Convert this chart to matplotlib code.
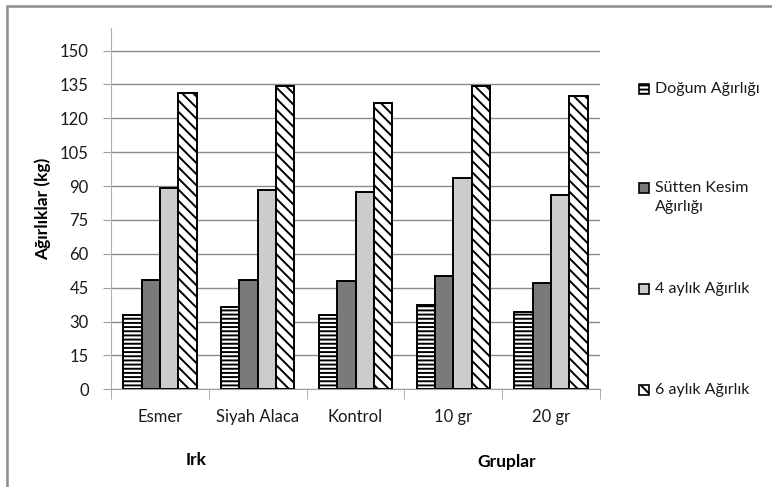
import numpy as np
import matplotlib
matplotlib.use("Agg")
import matplotlib.pyplot as plt
from matplotlib.patches import Rectangle

plt.rcParams['font.family'] = ['Lato', 'DejaVu Sans']
plt.rcParams['hatch.linewidth'] = 1.4

groups = ['Esmer', 'Siyah Alaca', 'Kontrol', '10 gr', '20 gr']
series = ['Doğum Ağırlığı', 'Sütten Kesim\nAğırlığı', '4 aylık Ağırlık', '6 aylık Ağırlık']
dogum = [32.8, 36.5, 32.8, 37.5, 34.1]
sutten = [48.3, 48.3, 48.0, 50.0, 47.1]
ay4 = [89.3, 88.4, 87.2, 93.6, 85.9]
ay6 = [131.0, 134.2, 127.0, 134.2, 129.9]
yticks = np.arange(0, 151, 15)

values = [dogum, sutten, ay4, ay6]
faces = ['white', '#7a7a7a', '#cccccc', 'white']
hatches = ['----', None, None, '\\\\\\']

fig = plt.figure(figsize=(7.72, 4.87), dpi=100)
ax = fig.add_axes([111 / 772, 1 - 389.3 / 487, 489 / 772, 361.3 / 487])

x = np.arange(len(groups))
w = 0.75 / 4
for i, vals in enumerate(values):
    ax.bar(x - 0.375 + w * (i + 0.5), vals, width=w, color=faces[i],
           edgecolor='black', linewidth=1.4, hatch=hatches[i], zorder=3)

ax.set_xlim(-0.5, 4.5)
ax.set_ylim(0, 160)
ax.set_yticks(yticks)
ax.set_yticklabels([str(v) for v in yticks], fontsize=12, color='#1a1a1a')
ax.grid(axis='y', color='#8a8a8a', linewidth=1.0, zorder=0)
ax.tick_params(axis='y', length=6, color='#a0a0a0', pad=10)

ax.set_xticks(x)
ax.set_xticklabels(groups, fontsize=12, color='#1a1a1a')
ax.tick_params(axis='x', length=0, pad=14)
ax.set_xticks(np.arange(-0.5, 5, 1), minor=True)
ax.tick_params(axis='x', which='minor', length=7, color='#a0a0a0', direction='out')

for s in ['top', 'right']:
    ax.spines[s].set_visible(False)
ax.spines['left'].set_color('#b0b0b0')
ax.spines['bottom'].set_color('#a0a0a0')

ax.set_ylabel('Ağırlıklar (kg)', fontsize=12.5, fontweight='bold', labelpad=6)

fig.text(196 / 772, 1 - 460 / 487, 'Irk', fontsize=12.5, fontweight='bold',
         ha='center', va='center')
fig.text(507 / 772, 1 - 462 / 487, 'Gruplar', fontsize=12.5, fontweight='bold',
         ha='center', va='center')

# legend on the right
legend_y = [89, 188, 289, 390]
for i, lab in enumerate(series):
    yc = 1 - legend_y[i] / 487
    box = Rectangle((639 / 772, yc - 5 / 487), 10 / 772, 10 / 487,
                    transform=fig.transFigure, facecolor=faces[i],
                    edgecolor='black', linewidth=1.2, hatch=hatches[i])
    fig.add_artist(box)
    fig.text(655 / 772, yc + 7 / 487, lab, fontsize=11.5, color='#1a1a1a',
             ha='left', va='top', linespacing=1.5)

# chart frame
frame = Rectangle((7 / 772, -0.1), 1.2, 1 - 6 / 487 + 0.1,
                  transform=fig.transFigure, fill=False,
                  edgecolor='#8c8c8c', linewidth=1.8)
fig.add_artist(frame)

fig.savefig('out.png', dpi=100)
